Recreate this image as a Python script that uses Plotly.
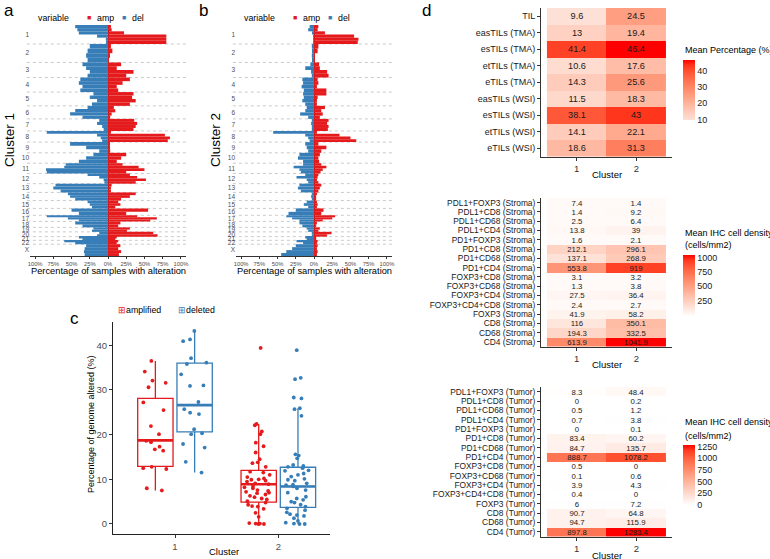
import plotly.graph_objects as go

W, H = 770, 559
RED = '#E41A1C'
BLUE = '#377EB8'
FONT = 'Liberation Sans, Arial, sans-serif'

# ---------------- panels a/b: genome-wide alteration frequency ----------------
chrom_labels = ['1', '2', '3', '4', '5', '6', '7', '8', '9', '10', '11', '12',
                '13', '14', '15', '16', '17', '18', '19', '20', '21', '22', 'X']
chrom_len = [249, 243, 198, 191, 181, 171, 159, 146, 141, 136, 135, 134,
             115, 107, 103, 90, 81, 78, 59, 63, 48, 51, 155]

# % of samples, each chromosome split into equal bins (top -> bottom)
c1_amp = [[4, 5, 22, 80, 80, 80], [4, 6, 2, 1], [18, 12, 35, 25], [30, 20, 12, 14],
          [35, 33, 38, 30], [8, 10, 5, 3], [36, 40, 38, 35], [4, 78, 85, 82],
          [2, 2, 3], [25, 18, 12], [20, 42, 50, 25], [30, 40, 52, 38],
          [5, 4, 4], [38, 30, 18], [14, 17, 10], [55, 25], [40, 67, 58],
          [17, 14], [30, 26], [62, 68], [12, 10], [14, 12], [17, 14, 18, 15]]
c1_del = [[45, 42, 40, 15, 3, 2], [25, 28, 30, 28], [35, 30, 25, 28], [38, 40, 35, 38],
          [20, 25, 15, 22], [28, 45, 52, 35], [12, 15, 8, 6], [84, 15, 10, 8],
          [52, 30, 12], [20, 30, 40], [58, 60, 85, 84], [28, 12, 6, 5],
          [72, 75, 65], [55, 52, 45], [28, 25, 22], [50, 40], [84, 55, 40],
          [45, 35], [20, 22], [12, 15], [40, 35], [60, 45], [30, 32, 33, 32]]
c2_amp = [[6, 5, 15, 55, 61, 60], [6, 5, 1, 1], [7, 8, 18, 20], [5, 6, 4, 17],
          [17, 5, 4, 4], [15, 10, 12, 8], [20, 18, 20, 19], [4, 35, 50, 58],
          [6, 17, 10], [8, 6, 7], [10, 17, 12, 9], [6, 5, 4, 6],
          [10, 8, 6], [4, 3, 3], [4, 5, 4], [13, 10], [29, 25, 12],
          [4, 3], [8, 6], [24, 18], [3, 3], [5, 4], [5, 4, 5, 4]]
c2_del = [[6, 8, 2, 1, 1, 1], [3, 2, 3, 2], [5, 12, 4, 3], [16, 15, 17, 14],
          [15, 14, 16, 12], [10, 12, 19, 8], [3, 4, 3, 3], [56, 12, 8, 6],
          [12, 10, 8], [20, 22, 15], [15, 28, 20, 18], [12, 24, 10, 8],
          [20, 22, 18], [3, 4, 3], [10, 14, 8], [25, 35], [38, 30, 20],
          [20, 16], [10, 8], [3, 3], [12, 10], [24, 15], [25, 30, 38, 45]]

pct_ticks = [-100, -75, -50, -25, 0, 25, 50, 75, 100]
pct_text = ['100%', '75%', '50%', '25%', '0%', '25%', '50%', '75%', '100%']

# ---------------- panel c: genome altered ----------------
box_clusters = [1, 2]
amp_q1, amp_med, amp_q3 = [12.9, 4.9], [18.7, 8.9], [28.1, 12.0]
amp_lo, amp_hi = [7.5, 0.0], [36.5, 22.4]
del_q1, del_med, del_q3 = [20.6, 3.7], [26.6, 8.4], [36.0, 12.7]
del_lo, del_hi = [11.5, 0.0], [43.2, 25.9]

amp_pts_c1 = [36.5, 34.1, 32.1, 31.6, 30.6, 27.2, 25.5, 21.9, 20.1, 18.6, 18.3,
              17.3, 16.7, 16.4, 12.8, 12.5, 12.3, 8.0, 7.5]
del_pts_c1 = [43.2, 41.3, 40.9, 37.1, 36.1, 35.8, 33.5, 31.0, 30.9, 27.3, 25.7,
              24.9, 24.6, 21.2, 20.3, 20.1, 17.9, 17.1, 13.9, 11.5]
amp_pts_c2 = [39.4, 22.4, 22.1, 20.7, 20.1, 18.2, 17.4, 16.0, 14.5, 13.8, 13.6,
              12.8, 11.7, 11.5, 11.0, 10.5, 10.2, 10.0, 9.9, 9.7, 9.5, 9.1, 8.9,
              8.5, 8.2, 8.0, 7.6, 7.4, 7.2, 7.0, 6.9, 6.6, 6.3, 6.0, 5.7, 5.5,
              5.1, 4.8, 4.3, 4.0, 3.9, 3.4, 2.5, 1.6, 0.2, 0.1, 0.0, 0.0, 0.1]
del_pts_c2 = [38.9, 32.7, 32.4, 28.3, 28.1, 25.9, 25.7, 24.2, 15.6, 15.3, 14.7,
              13.2, 13.0, 12.8, 12.5, 12.0, 11.9, 11.3, 11.0, 10.6, 10.1, 9.9,
              9.7, 9.1, 8.8, 8.7, 8.4, 8.0, 7.6, 7.0, 6.1, 5.7, 5.4, 5.0, 4.8,
              4.3, 3.9, 3.5, 3.1, 2.6, 2.2, 2.0, 1.8, 1.3, 0.7, 0.3, 0.1, 0.0, 0.0]

# ---------------- panel d: heatmaps ----------------
til_rows = ['TIL', 'easTILs (TMA)', 'esTILs (TMA)', 'etTILs (TMA)', 'eTILs (TMA)',
            'easTILs (WSI)', 'esTILs (WSI)', 'etTILs (WSI)', 'eTILs (WSI)']
til_c1 = [9.6, 13, 41.4, 10.6, 14.3, 11.5, 38.1, 14.1, 18.6]
til_c2 = [24.5, 19.4, 46.4, 17.6, 25.6, 18.3, 43, 22.1, 31.3]

ihc_markers = ['PDL1+FOXP3', 'PDL1+CD8', 'PDL1+CD68', 'PDL1+CD4', 'PD1+FOXP3',
               'PD1+CD8', 'PD1+CD68', 'PD1+CD4', 'FOXP3+CD8', 'FOXP3+CD68',
               'FOXP3+CD4', 'FOXP3+CD4+CD8', 'FOXP3', 'CD8', 'CD68', 'CD4']
stroma_c1 = [7.4, 1.4, 2.5, 13.8, 1.6, 212.1, 137.1, 553.8, 3.1, 1.3, 27.5, 2.4,
             41.9, 116, 194.3, 613.9]
stroma_c2 = [1.4, 9.2, 6.4, 39, 2.1, 296.1, 268.9, 919, 3.2, 3.8, 36.4, 2.7,
             58.2, 350.1, 332.5, 1041.9]
tumor_c1 = [8.3, 0, 0.5, 0.7, 0, 83.4, 84.7, 888.7, 0.5, 0.1, 3.9, 0.4, 6,
            90.7, 94.7, 897.8]
tumor_c2 = [48.4, 0.2, 1.2, 3.8, 0.1, 60.2, 135.7, 1078.2, 0, 0.6, 4.3, 0, 7.2,
            64.8, 115.9, 1283.4]


def px_x(p):
    return p / W


def px_y(p):
    return 1 - p / H


def dom_y(top, bottom):
    return [px_y(bottom), px_y(top)]


# ggplot-like gradient (interpolated in Lab space)
def _lin(c):
    c = c / 255
    return c / 12.92 if c <= 0.04045 else ((c + 0.055) / 1.055) ** 2.4


def _gam(c):
    c = 12.92 * c if c <= 0.0031308 else 1.055 * c ** (1 / 2.4) - 0.055
    return max(0, min(255, round(c * 255)))


def hex_to_lab(h):
    r, g, b = [_lin(int(h[i:i + 2], 16)) for i in (1, 3, 5)]
    x = (0.4124 * r + 0.3576 * g + 0.1805 * b) / 0.95047
    y = 0.2126 * r + 0.7152 * g + 0.0722 * b
    z = (0.0193 * r + 0.1192 * g + 0.9505 * b) / 1.08883
    f = lambda t: t ** (1 / 3) if t > 0.008856 else 7.787 * t + 16 / 116
    fx, fy, fz = f(x), f(y), f(z)
    return 116 * fy - 16, 500 * (fx - fy), 200 * (fy - fz)


def lab_to_hex(L, a, b):
    fy = (L + 16) / 116
    fx, fz = fy + a / 500, fy - b / 200
    inv = lambda t: t ** 3 if t ** 3 > 0.008856 else (t - 16 / 116) / 7.787
    x, y, z = inv(fx) * 0.95047, inv(fy), inv(fz) * 1.08883
    r = 3.2406 * x - 1.5372 * y - 0.4986 * z
    g = -0.9689 * x + 1.8758 * y + 0.0415 * z
    bb = 0.0557 * x - 0.2040 * y + 1.0570 * z
    return '#%02x%02x%02x' % tuple(_gam(max(0, c)) for c in (r, g, bb))


def lab_scale(lo, hi, n=12):
    l0, l1 = hex_to_lab(lo), hex_to_lab(hi)
    return [[i / n, lab_to_hex(*[p + (q - p) * i / n for p, q in zip(l0, l1)])]
            for i in range(n + 1)]


fig = go.Figure()

# ---- genome panels ----
starts = [sum(chrom_len[:i]) for i in range(len(chrom_len))]
total = sum(chrom_len)
centers = [s + L / 2 for s, L in zip(starts, chrom_len)]


def bins(per_chrom):
    ys, ws, vs = [], [], []
    for s, L, vals in zip(starts, chrom_len, per_chrom):
        size = L / len(vals)
        for k, v in enumerate(vals):
            ys.append(s + (k + 0.5) * size)
            ws.append(size)
            vs.append(v)
    return ys, ws, vs


for amp, dele, xa, ya in [(c1_amp, c1_del, 'x', 'y'), (c2_amp, c2_del, 'x2', 'y2')]:
    ys, ws, vs = bins(amp)
    fig.add_trace(go.Bar(x=vs, y=ys, width=ws, orientation='h', marker=dict(color=RED, line=dict(width=0)),
                         xaxis=xa, yaxis=ya, hoverinfo='skip'))
    ys, ws, vs = bins(dele)
    fig.add_trace(go.Bar(x=[-v for v in vs], y=ys, width=ws, orientation='h',
                         marker=dict(color=BLUE, line=dict(width=0)),
                         xaxis=xa, yaxis=ya, hoverinfo='skip'))

shapes = []
for xd, yr, x0 in [('x domain', 'y', -0.02), ('x2 domain', 'y2', -0.02)]:
    for s in starts[1:]:
        shapes.append(dict(type='line', xref=xd, yref=yr, x0=x0, x1=1, y0=s, y1=s,
                           line=dict(color='#BDBDBD', width=0.8, dash='dot'), layer='below'))

genome_x = dict(range=[-107, 107], tickvals=pct_ticks, ticktext=pct_text,
                tickfont=dict(size=5.8, color='#4D4D4D'), ticks='outside', ticklen=2,
                tickcolor='#333', showline=True, linecolor='#333', linewidth=0.8,
                showgrid=False, zeroline=True, zerolinecolor='#222', zerolinewidth=0.8,
                automargin=False)
genome_y = dict(range=[total, 0], tickvals=centers, ticktext=chrom_labels,
                tickfont=dict(size=6.5, color='#4D4D4D'), ticks='', showgrid=False,
                zeroline=False, showline=False, automargin=False)

# ---- panel c boxes ----
box_sets = [('amplified', RED, amp_q1, amp_med, amp_q3, amp_lo, amp_hi, amp_pts_c1, amp_pts_c2),
            ('deleted', BLUE, del_q1, del_med, del_q3, del_lo, del_hi, del_pts_c1, del_pts_c2)]
for name, col, q1, med, q3, lo, hi, p1, p2 in box_sets:
    fig.add_trace(go.Box(x=box_clusters, q1=q1, median=med, q3=q3, lowerfence=lo, upperfence=hi,
                         name=name, offsetgroup=name, boxpoints=False, whiskerwidth=0,
                         line=dict(color=col, width=1.3), fillcolor='rgba(255,255,255,0)',
                         xaxis='x3', yaxis='y3', hoverinfo='skip'))
    # thicker median line
    fig.add_trace(go.Box(x=box_clusters, q1=med, median=med, q3=med, lowerfence=med, upperfence=med,
                         name=name, offsetgroup=name, boxpoints=False, whiskerwidth=0,
                         line=dict(color=col, width=2.6), fillcolor='rgba(255,255,255,0)',
                         xaxis='x3', yaxis='y3', hoverinfo='skip'))
    fig.add_trace(go.Box(x=[1] * len(p1) + [2] * len(p2), y=p1 + p2, name=name, offsetgroup=name,
                         boxpoints='all', jitter=0.85, pointpos=0,
                         marker=dict(color=col, size=3.8),
                         line=dict(width=0, color='rgba(0,0,0,0)'), fillcolor='rgba(0,0,0,0)',
                         xaxis='x3', yaxis='y3', hoverinfo='skip'))

# ---- panel d heatmaps ----
heat_specs = [
    (til_rows, til_c1, til_c2, 'x4', 'y4', '#FDE0D6', 90, [10, 20, 30, 40], 9.2),
    ([m + ' (Stroma)' for m in ihc_markers], stroma_c1, stroma_c2, 'x5', 'y5', '#FFFAF8', 285,
     [250, 500, 750, 1000], 7.8),
    ([m + ' (Tumor)' for m in ihc_markers], tumor_c1, tumor_c2, 'x6', 'y6', '#FFFFFF', 475,
     [0, 250, 500, 750, 1000, 1250], 7.8),
]
for rows, v1, v2, xa, ya, low, cby, cbt, fs in heat_specs:
    z = [[a, b] for a, b in zip(v1, v2)]
    txt = [[f'{a:g}', f'{b:g}'] for a, b in zip(v1, v2)]
    fig.add_trace(go.Heatmap(
        z=z, x=[1, 2], y=rows, text=txt, texttemplate='%{text}',
        textfont=dict(size=fs, color='#1A1A1A', family=FONT),
        colorscale=lab_scale(low, '#FF0000'), xaxis=xa, yaxis=ya, hoverinfo='skip',
        colorbar=dict(x=px_x(683), xanchor='left', xpad=0, y=px_y(cby), yanchor='middle', ypad=0,
                      len=60, lenmode='pixels', thickness=12, outlinewidth=0, tickvals=cbt,
                      ticks='', tickfont=dict(size=9, color='#1A1A1A'))))

heat_x = dict(range=[0.4, 2.6], tickvals=[1, 2], ticks='outside', ticklen=3, tickcolor='#333',
              showline=True, linecolor='#333', linewidth=1, showgrid=False, zeroline=False,
              tickfont=dict(size=9.5, color='#333'), automargin=False)


def heat_y(rows, top, bottom, fs, anchor):
    return dict(domain=dom_y(top, bottom), anchor=anchor, autorange='reversed',
                tickmode='array', tickvals=rows, ticktext=rows, ticks='outside',
                ticklen=3, tickcolor='#333', showline=True, linecolor='#333', linewidth=1,
                showgrid=False, tickfont=dict(size=fs, color='#1A1A1A'), automargin=False)


stroma_rows = heat_specs[1][0]
tumor_rows = heat_specs[2][0]

fig.update_layout(
    width=W, height=H, margin=dict(l=0, r=0, t=0, b=0, autoexpand=False),
    paper_bgcolor='white', plot_bgcolor='rgba(0,0,0,0)',
    font=dict(family=FONT, color='black'),
    showlegend=False, barmode='overlay', boxmode='group', boxgap=0.24, boxgroupgap=0.1,
    xaxis=dict(domain=[px_x(30), px_x(186)], anchor='y', **genome_x),
    yaxis=dict(domain=dom_y(25, 256), anchor='x', **genome_y),
    xaxis2=dict(domain=[px_x(236), px_x(392)], anchor='y2', **genome_x),
    yaxis2=dict(domain=dom_y(25, 256), anchor='x2', **genome_y),
    xaxis3=dict(domain=[px_x(113), px_x(330)], anchor='y3', type='linear', range=[0.4, 2.5],
                tickvals=[1, 2], ticks='outside', ticklen=3, tickcolor='#333', showline=True,
                linecolor='#222', linewidth=1.2, showgrid=False, zeroline=False,
                tickfont=dict(size=9.5, color='#4D4D4D'), automargin=False),
    yaxis3=dict(domain=dom_y(322, 534), anchor='x3', range=[-2.24, 45.2],
                tickvals=[0, 10, 20, 30, 40], ticks='outside', ticklen=3, tickcolor='#333',
                showline=True, linecolor='#222', linewidth=1.2, showgrid=False, zeroline=False,
                tickfont=dict(size=9.5, color='#4D4D4D'), automargin=False),
    xaxis4=dict(domain=[px_x(541), px_x(672)], anchor='y4', **heat_x),
    yaxis4=heat_y(til_rows, 8, 156.5, 9, 'x4'),
    xaxis5=dict(domain=[px_x(541), px_x(672)], anchor='y5', **heat_x),
    yaxis5=heat_y(stroma_rows, 198, 346.5, 8.4, 'x5'),
    xaxis6=dict(domain=[px_x(541), px_x(672)], anchor='y6', **heat_x),
    yaxis6=heat_y(tumor_rows, 387, 536.5, 8.4, 'x6'),
    shapes=shapes,
)


def note(text, x, y, size=9, color='black', xanchor='center', angle=0, yanchor='middle'):
    fig.add_annotation(text=text, x=px_x(x), y=px_y(y), xref='paper', yref='paper',
                       showarrow=False, xanchor=xanchor, yanchor=yanchor, textangle=angle,
                       font=dict(size=size, color=color, family=FONT))


# panel letters
note('a', 2, 10, 17, xanchor='left')
note('b', 197, 10, 17, xanchor='left')
note('c', 68, 318, 17, xanchor='left')
note('d', 420, 10, 17, xanchor='left')

# panel a/b legends and titles
for off in (0, 206):
    note('variable', 36 + off, 18, 8.8, xanchor='left')
    note('■', 89 + off, 18, 7, RED)
    note('amp', 95 + off, 18, 8.8, xanchor='left')
    note('■', 124 + off, 18, 7, BLUE)
    note('del', 130 + off, 18, 8.8, xanchor='left')
    note('Percentage of samples with alteration', 108 + off, 271, 9.3)
note('Cluster 1', 9, 140, 13.5, angle=-90)
note('Cluster 2', 215, 140, 13.5, angle=-90)

# panel c
note(f'<span style="color:{RED}">⊞</span>amplified', 116, 310, 8.8, xanchor='left')
note(f'<span style="color:{BLUE}">⊞</span>deleted', 176, 310, 8.8, xanchor='left')
note('Percentage of genome altered (%)', 91, 424, 9, angle=-90)
note('Cluster', 224, 551, 9.5)

# panel d titles
note('Cluster', 607, 175, 9.5)
note('Cluster', 607, 364, 9.5)
note('Cluster', 607, 555, 9.5)
note('Mean Percentage (%)', 683, 50, 9, xanchor='left')
note('Mean IHC cell density', 683, 233, 9, xanchor='left')
note('(cells/mm2)', 683, 245, 9, xanchor='left')
note('Mean IHC cell density', 683, 422, 9, xanchor='left')
note('(cells/mm2)', 683, 436, 9, xanchor='left')

# the page body keeps its default 8px margin otherwise
fig.write_html('out.html', config={'displayModeBar': False},
               post_script="document.body.style.margin='0';")
